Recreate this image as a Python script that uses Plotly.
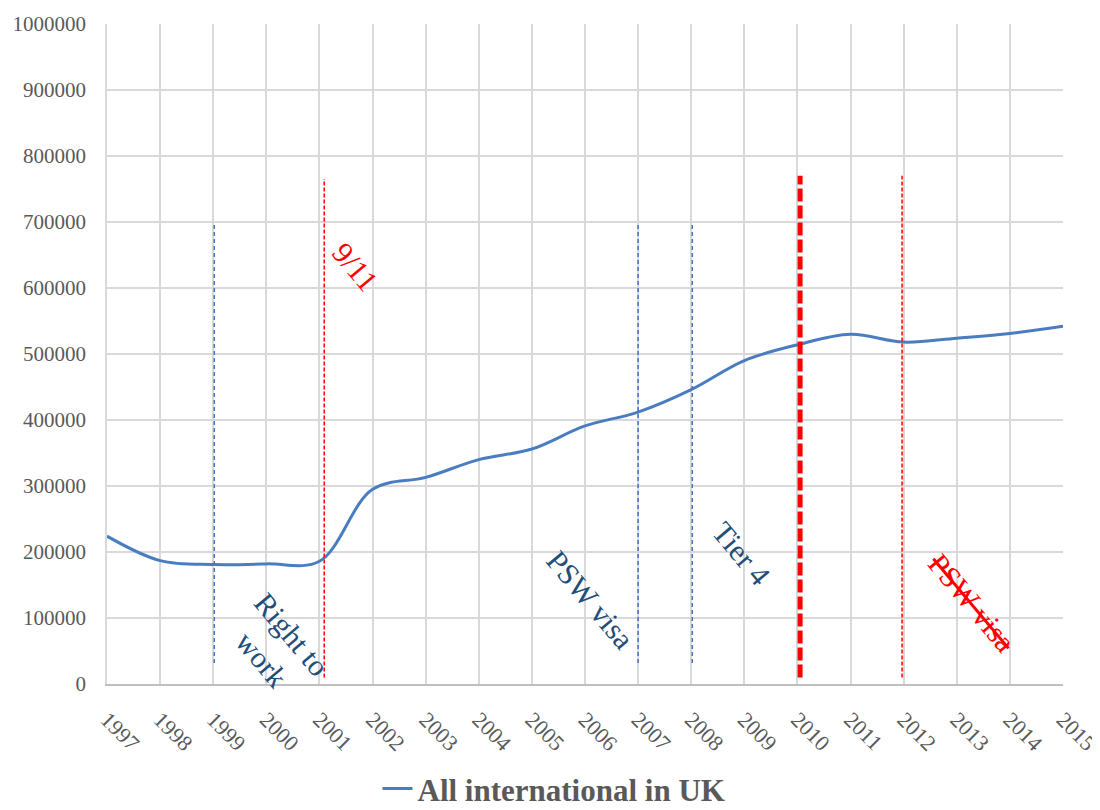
import plotly.graph_objects as go

years = list(range(1997, 2016))
students = [224000, 187000, 181000, 182000, 186000, 295000, 313000, 340000, 356000,
            391000, 412000, 446000, 490000, 514000, 530000, 518000, 524000, 531000, 542000]
series_name = "All international in UK"

# policy events: x position (year), bottom value, top value
blue_event_x = [1999.02, 2007.0, 2008.02]
blue_event_bottom = [32000, 32000, 32000]
blue_event_top = [700000, 700000, 700000]
red_event_x = [2001.09, 2011.97]
red_event_bottom = [10000, 10000]
red_event_top = [765000, 770000]
major_event_x = [2010.05]
major_event_bottom = [10000]
major_event_top = [770000]

labels = ["Right to<br>work", "9/11", "PSW visa", "Tier 4", "PSW visa"]
label_x = [2000.2, 2001.67, 2006.1, 2008.95, 2013.29]
label_y = [56000, 632000, 128000, 198000, 124000]

FONT = "Liberation Serif"
fig = go.Figure()
fig.add_trace(go.Scatter(x=years, y=students, mode="lines", name=series_name,
                         line=dict(color="#4A7DBF", width=3, shape="spline", smoothing=1)))

for xs, b, t in zip(blue_event_x, blue_event_bottom, blue_event_top):
    fig.add_trace(go.Scatter(x=[xs, xs], y=[b, t], mode="lines", showlegend=False,
                             line=dict(color="#4472C4", width=1.5, dash="4px,3px")))
for xs, b, t in zip(red_event_x, red_event_bottom, red_event_top):
    fig.add_trace(go.Scatter(x=[xs, xs], y=[b, t], mode="lines", showlegend=False,
                             line=dict(color="#FF0000", width=1.5, dash="4px,2px")))
for xs, b, t in zip(major_event_x, major_event_bottom, major_event_top):
    fig.add_trace(go.Scatter(x=[xs, xs], y=[b, t], mode="lines", showlegend=False,
                             line=dict(color="#FF0000", width=5, dash="13px,4px")))

label_colors = ["#1F4E79", "#FF0000", "#1F4E79", "#1F4E79", "#FF0000"]
for i, (txt, lx, ly) in enumerate(zip(labels, label_x, label_y)):
    font = dict(family=FONT, size=30, color=label_colors[i])
    if i == 4:
        font["lineposition"] = "through"
    fig.add_annotation(x=lx, y=ly, text=txt, showarrow=False, textangle=50, font=font)

# page body has an 8px default margin, so the figure is 8px smaller than the window
fig.update_layout(
    width=1092, height=802,
    margin=dict(l=99, r=37, t=16, b=126, autoexpand=False),
    paper_bgcolor="white", plot_bgcolor="white",
    font=dict(family=FONT, color="#595959", size=22),
    showlegend=True,
    legend=dict(orientation="h", xref="container", x=0.5, xanchor="center",
                y=-0.159, yanchor="middle",
                font=dict(family=FONT, size=31, color="#595959", weight="bold")),
    xaxis=dict(range=[1997, 2015], tickmode="array", tickvals=years,
               ticktext=[str(y) for y in years], tickangle=45, automargin=False,
               ticklabeloverflow="allow",
               showgrid=True, gridcolor="#D9D9D9", gridwidth=1.5,
               showline=True, linecolor="#BFBFBF", linewidth=2,
               ticks="", zeroline=False, ticklabelstandoff=12,
               tickfont=dict(size=22, color="#595959")),
    yaxis=dict(range=[0, 1000000], tickmode="linear", dtick=100000, tickformat="d",
               showgrid=True, gridcolor="#D9D9D9", gridwidth=1.5, automargin=False,
               ticklabeloverflow="allow",
               zeroline=False, showline=True, linecolor="#D9D9D9", linewidth=1.5,
               ticks="", ticklabelstandoff=15, tickfont=dict(size=21, color="#595959")),
)

fig.write_html("out.html")
